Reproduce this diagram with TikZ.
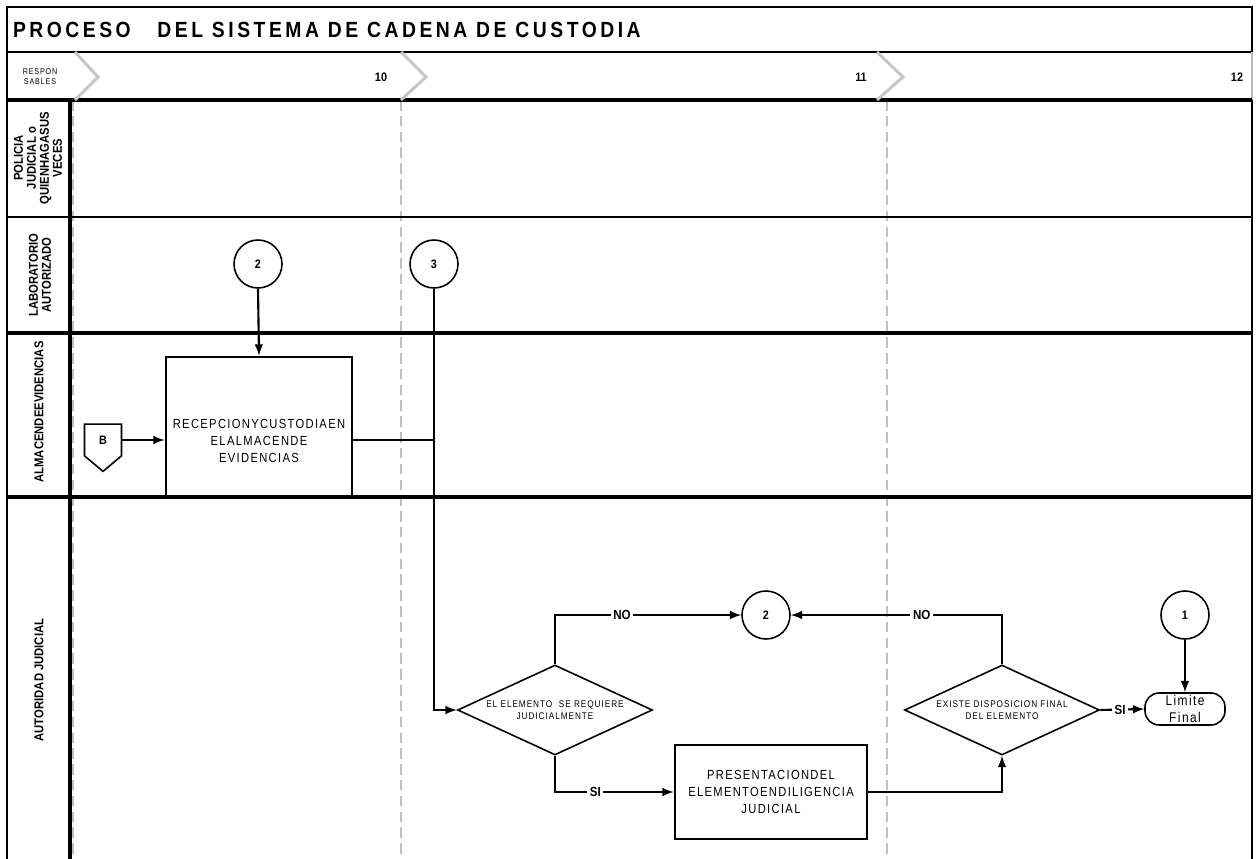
\documentclass[tikz,border=0pt]{standalone}
\usepackage{fontspec}
\setmainfont{Liberation Sans}
\newfontfamily\narrowfont[FakeStretch=0.85,LetterSpace=10]{Liberation Sans}
\newfontfamily\boldnarrow[FakeStretch=0.88]{Liberation Sans}
\usetikzlibrary{shapes, arrows.meta, positioning}

\begin{document}
\begin{tikzpicture}[x=0.02cm,y=-0.02cm,line width=1.2pt,
lane/.style={line width=2pt},
sep/.style={gray!50,line width=1.6pt,dash pattern=on 6pt off 3pt},
chev/.style={gray!45,line width=1.7pt},
proc/.style={draw,line width=1.6pt,inner sep=0pt},
proctext/.style={align=center,inner sep=0pt,font=\narrowfont\fontsize{7.5}{9.5}\selectfont},
decision/.style={diamond,draw,line width=0.9pt,shape aspect=2.2,minimum width=3.9cm,minimum height=1.8cm,inner sep=0pt,align=center,font=\narrowfont\fontsize{5.5}{6.5}\selectfont},
conn/.style={circle,draw,line width=0.9pt,minimum size=0.96cm,inner sep=0pt,font=\boldnarrow\bfseries\fontsize{7}{8}\selectfont},
term/.style={rectangle,rounded corners=8pt,draw,line width=0.9pt,minimum width=1.6cm,minimum height=0.64cm,inner sep=0pt,align=center,font=\narrowfont\fontsize{8}{9.5}\selectfont},
lbl/.style={fill=white,inner sep=1.5pt,font=\boldnarrow\bfseries\fontsize{7.5}{8}\selectfont},
lanename/.style={rotate=90,align=center,inner sep=0pt,font=\boldnarrow\bfseries\fontsize{7.3}{7.4}\selectfont}]

\useasboundingbox (0,0) rectangle (1259,859);

\draw[sep] (73,100) -- (73,859);
\draw[sep] (401,100) -- (401,859);
\draw[sep] (887,100) -- (887,859);

\draw[line width=1.3pt] (7,859) -- (7,7) -- (1252,7) -- (1252,52);
\draw[line width=1.3pt] (7,52) -- (1252,52);
\draw[gray!55,line width=0.8pt] (1252,52) -- (1252,100);
\draw[line width=0.7pt] (1252,100) -- (1252,859);
\draw[lane] (7,100) -- (1252,100);
\draw[line width=1.3pt] (7,217) -- (1252,217);
\draw[lane] (7,333) -- (1252,333);
\draw[lane] (7,497) -- (1252,497);
\draw[line width=1.8pt] (70,100) -- (70,859);

\draw[chev] (75,52) -- (98,77) -- (75,100);
\draw[chev] (401,52) -- (426,77) -- (401,100);
\draw[chev] (877,52) -- (903,77) -- (877,100);

\node[anchor=west,inner sep=0pt,font=\boldnarrow\bfseries\fontsize{12.5}{14}\addfontfeatures{LetterSpace=16}\selectfont] (title) at (12,30) {PROCESO\ \ \ DEL SISTEMA DE CADENA DE CUSTODIA};
\node[align=center,inner sep=0pt,font=\narrowfont\fontsize{4.8}{5.6}\selectfont] (resp) at (40,77) {RESPON\\SABLES};
\node[font=\boldnarrow\bfseries\fontsize{7}{8}\selectfont] (n10) at (381,77) {10};
\node[font=\boldnarrow\bfseries\fontsize{7}{8}\selectfont] (n11) at (861,77) {11};
\node[font=\boldnarrow\bfseries\fontsize{7}{8}\selectfont] (n12) at (1237,77) {12};

\node[lanename] (policia) at (38,158) {POLICIA\\JUDICIAL o\\QUIENHAGASUS\\VECES};
\node[lanename] (labor) at (40,275) {LABORATORIO\\AUTORIZADO};
\node[lanename] (almacen) at (39,412) {ALMACENDEEVIDENCIAS};
\node[lanename] (autoridad) at (39,680) {AUTORIDAD JUDICIAL};

\node[conn] (c2a) at (258,264) {2};
\node[conn] (c3) at (434,264) {3};
\node[proc,minimum width=3.72cm,minimum height=2.8cm] (recep) at (259,427) {};
\node[proctext] (receptext) at ([yshift=-0.28cm]recep.center) {RECEPCIONYCUSTODIAEN\\ELALMACENDE\\EVIDENCIAS};
\node[signal,signal to=south,signal pointer angle=100,draw,line width=0.9pt,minimum width=0.74cm,minimum height=0.7cm,inner sep=0pt,font=\boldnarrow\bfseries\fontsize{7}{8}\selectfont] (bconn) at (103,440) {B};

\node[decision] (dec1) at (555,710) {EL ELEMENTO\ \ SE REQUIERE\\JUDICIALMENTE};
\node[conn] (c2b) at (766,615) {2};
\node[proc,minimum width=3.84cm,minimum height=1.88cm] (pres) at (771,792) {};
\node[proctext] (prestext) at (pres.center) {PRESENTACIONDEL\\ELEMENTOENDILIGENCIA\\JUDICIAL};
\node[decision] (dec2) at (1002,710) {EXISTE DISPOSICION FINAL\\DEL ELEMENTO};
\node[conn] (c1) at (1185,615) {1};
\node[term] (limite) at (1185,709) {Limite\\Final};

\draw[-latex] (c2a.south) -- (recep.north);
\draw[-latex] (bconn.east) -- (recep.west |- bconn.east);
\draw (recep.east |- bconn.east) -- (c3 |- bconn.east);
\draw[-latex] (c3.south) |- (dec1.west);
\draw[-latex] (dec1.north) |- node[lbl,pos=0.68] {NO} (c2b.west);
\draw[-latex] (dec1.south) |- node[lbl,pos=0.67] {SI} (pres.west);
\draw[-latex] (pres.east) -| (dec2.south);
\draw[-latex] (dec2.north) |- node[lbl,pos=0.69] {NO} (c2b.east);
\draw[-latex] (dec2.east) -- node[lbl,pos=0.45] {SI} (limite.west);
\draw[-latex] (c1.south) -- (limite.north);
\end{tikzpicture}
\end{document}
